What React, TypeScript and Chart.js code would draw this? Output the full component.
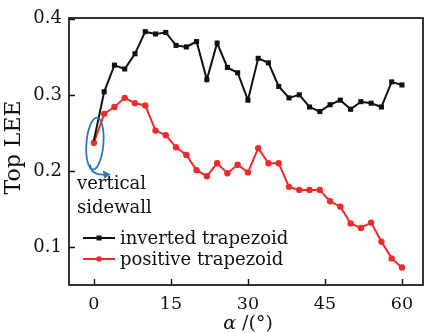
import React, { useEffect, useRef } from 'react';
import { Chart, registerables } from 'chart.js';

Chart.register(...registerables);

// Tilt angle α in degrees
const ANGLES = [0, 2, 4, 6, 8, 10, 12, 14, 16, 18, 20, 22, 24, 26, 28, 30, 32, 34, 36, 38, 40, 42, 44, 46, 48, 50, 52, 54, 56, 58, 60];

// Top light extraction efficiency per sidewall shape
const INVERTED = [0.240, 0.304, 0.339, 0.334, 0.354, 0.383, 0.380, 0.382, 0.365, 0.363, 0.370, 0.320, 0.368, 0.336, 0.329, 0.293, 0.348, 0.342, 0.311, 0.296, 0.300, 0.284, 0.278, 0.287, 0.293, 0.281, 0.291, 0.289, 0.284, 0.317, 0.313];
const POSITIVE = [0.237, 0.275, 0.284, 0.296, 0.289, 0.286, 0.253, 0.247, 0.231, 0.221, 0.201, 0.193, 0.210, 0.197, 0.208, 0.198, 0.230, 0.210, 0.210, 0.179, 0.175, 0.175, 0.175, 0.160, 0.153, 0.131, 0.125, 0.132, 0.107, 0.085, 0.073];

const SERIES_LABELS = ['inverted trapezoid', 'positive trapezoid'];
const X_TICKS = [0, 15, 30, 45, 60];
const Y_TICKS = [0.1, 0.2, 0.3, 0.4];
const X_TITLE_SYMBOL = 'α';
const X_TITLE_UNIT = ' /(°)';
const Y_TITLE = 'Top LEE';
const NOTE_LINES = ['vertical', 'sidewall'];
const NOTE_POINT = { angle: 0.2, value: 0.236 };

const FONT = '"DejaVu Serif", serif';
const INK = '#111111';
const BLACK = '#111111';
const RED = '#f02a2a';
const BLUE = '#2f78b8';

const decor = {
  id: 'decor',
  afterDraw(chart: any) {
    const { ctx, chartArea: a, scales } = chart;
    const x = scales.x;
    const y = scales.y;
    ctx.save();

    // frame
    ctx.strokeStyle = INK;
    ctx.lineWidth = 1.7;
    ctx.strokeRect(a.left, a.top, a.right - a.left, a.bottom - a.top);

    // inward ticks
    ctx.lineWidth = 1.4;
    ctx.beginPath();
    X_TICKS.forEach((v) => {
      const px = Math.round(x.getPixelForValue(v)) + 0.5;
      ctx.moveTo(px, a.bottom);
      ctx.lineTo(px, a.bottom - 6);
    });
    Y_TICKS.forEach((v) => {
      const py = Math.round(y.getPixelForValue(v)) + 0.5;
      ctx.moveTo(a.left, py);
      ctx.lineTo(a.left + 6, py);
    });
    ctx.stroke();

    // axis titles
    ctx.fillStyle = INK;
    ctx.textBaseline = 'middle';
    const italic = `italic 19px ${FONT}`;
    const upright = `19px ${FONT}`;
    ctx.font = italic;
    const w1 = ctx.measureText(X_TITLE_SYMBOL).width;
    ctx.font = upright;
    const w2 = ctx.measureText(X_TITLE_UNIT).width;
    const cx = (a.left + a.right) / 2 + 2;
    const tx = cx - (w1 + w2) / 2;
    ctx.textAlign = 'left';
    ctx.font = italic;
    ctx.fillText(X_TITLE_SYMBOL, tx, a.bottom + 39);
    ctx.font = upright;
    ctx.fillText(X_TITLE_UNIT, tx + w1, a.bottom + 39);

    ctx.save();
    ctx.translate(14, (a.top + a.bottom) / 2 - 4);
    ctx.rotate(-Math.PI / 2);
    ctx.textAlign = 'center';
    ctx.font = `22px ${FONT}`;
    ctx.fillText(Y_TITLE, 0, 0);
    ctx.restore();

    // annotation: ellipse round the α = 0 points, with a hooked arrow
    const ex = x.getPixelForValue(NOTE_POINT.angle);
    const ey = y.getPixelForValue(NOTE_POINT.value);
    ctx.strokeStyle = BLUE;
    ctx.lineWidth = 1.8;
    ctx.beginPath();
    ctx.ellipse(ex, ey, 8.5, 26, 0.08, 0, Math.PI * 2);
    ctx.stroke();
    ctx.beginPath();
    ctx.moveTo(ex - 5, ey + 21);
    ctx.quadraticCurveTo(ex - 4, ey + 32, ex + 10, ey + 31);
    ctx.stroke();
    ctx.fillStyle = BLUE;
    ctx.beginPath();
    ctx.moveTo(ex + 16, ey + 31);
    ctx.lineTo(ex + 8, ey + 27);
    ctx.lineTo(ex + 9, ey + 35);
    ctx.closePath();
    ctx.fill();

    ctx.fillStyle = INK;
    ctx.font = `18px ${FONT}`;
    ctx.textBaseline = 'alphabetic';
    ctx.textAlign = 'left';
    ctx.fillText(NOTE_LINES[0], a.left + 8, a.top + 171);
    ctx.fillText(NOTE_LINES[1], a.left + 8, a.top + 195);

    // legend
    const rows = [
      { label: SERIES_LABELS[0], color: BLACK, square: true, y: a.bottom - 47 },
      { label: SERIES_LABELS[1], color: RED, square: false, y: a.bottom - 26 },
    ];
    rows.forEach((r) => {
      const x0 = a.left + 14;
      const x1 = a.left + 46;
      ctx.strokeStyle = r.color;
      ctx.fillStyle = r.color;
      ctx.lineWidth = 2;
      ctx.beginPath();
      ctx.moveTo(x0, r.y);
      ctx.lineTo(x1, r.y);
      ctx.stroke();
      const mx = (x0 + x1) / 2;
      if (r.square) {
        ctx.fillRect(mx - 2.5, r.y - 2.5, 5, 5);
      } else {
        ctx.beginPath();
        ctx.arc(mx, r.y, 2.8, 0, Math.PI * 2);
        ctx.fill();
      }
      ctx.fillStyle = INK;
      ctx.font = `18px ${FONT}`;
      ctx.textBaseline = 'middle';
      ctx.fillText(r.label, a.left + 51, r.y + 1);
    });

    ctx.restore();
  },
};

export default function App() {
  const ref = useRef<HTMLCanvasElement | null>(null);

  useEffect(() => {
    if (!ref.current) return;
    const chart = new Chart(ref.current, {
      type: 'line',
      data: {
        datasets: [
          {
            label: SERIES_LABELS[0],
            data: ANGLES.map((a, i) => ({ x: a, y: INVERTED[i] })),
            borderColor: BLACK,
            backgroundColor: BLACK,
            borderWidth: 2,
            pointStyle: 'rect',
            pointRadius: (c: any) => (c.dataIndex === 0 ? 0 : 3.6),
            pointBorderWidth: 0,
            tension: 0,
          },
          {
            label: SERIES_LABELS[1],
            data: ANGLES.map((a, i) => ({ x: a, y: POSITIVE[i] })),
            borderColor: RED,
            backgroundColor: RED,
            borderWidth: 2,
            pointStyle: 'circle',
            pointRadius: 3.2,
            pointBorderWidth: 0,
            tension: 0,
          },
        ],
      },
      options: {
        responsive: false,
        animation: false,
        layout: { padding: { top: 18, right: 3, left: 0, bottom: 0 } },
        plugins: {
          legend: { display: false },
          tooltip: { enabled: false },
        },
        scales: {
          x: {
            type: 'linear',
            min: -4.85,
            max: 64.1,
            afterBuildTicks: (s: any) => {
              s.ticks = X_TICKS.map((v) => ({ value: v }));
            },
            afterFit: (s: any) => {
              s.height = 48;
            },
            grid: { display: false, drawTicks: false },
            border: { display: false },
            ticks: {
              color: INK,
              padding: 9,
              maxRotation: 0,
              font: { family: FONT, size: 17.5 },
              callback: (v: any) => String(v),
            },
          },
          y: {
            type: 'linear',
            min: 0.05,
            max: 0.401,
            afterBuildTicks: (s: any) => {
              s.ticks = Y_TICKS.map((v) => ({ value: v }));
            },
            afterFit: (s: any) => {
              s.width = 69;
            },
            grid: { display: false, drawTicks: false },
            border: { display: false },
            ticks: {
              color: INK,
              padding: 7,
              font: { family: FONT, size: 18 },
              callback: (v: any) => Number(v).toFixed(1),
            },
          },
        },
      },
      plugins: [decor],
    });
    return () => chart.destroy();
  }, []);

  return (
    <div style={{ position: 'absolute', left: 0, top: 0, width: 427, height: 333, background: '#fff' }}>
      <canvas ref={ref} width={427} height={333} />
    </div>
  );
}
